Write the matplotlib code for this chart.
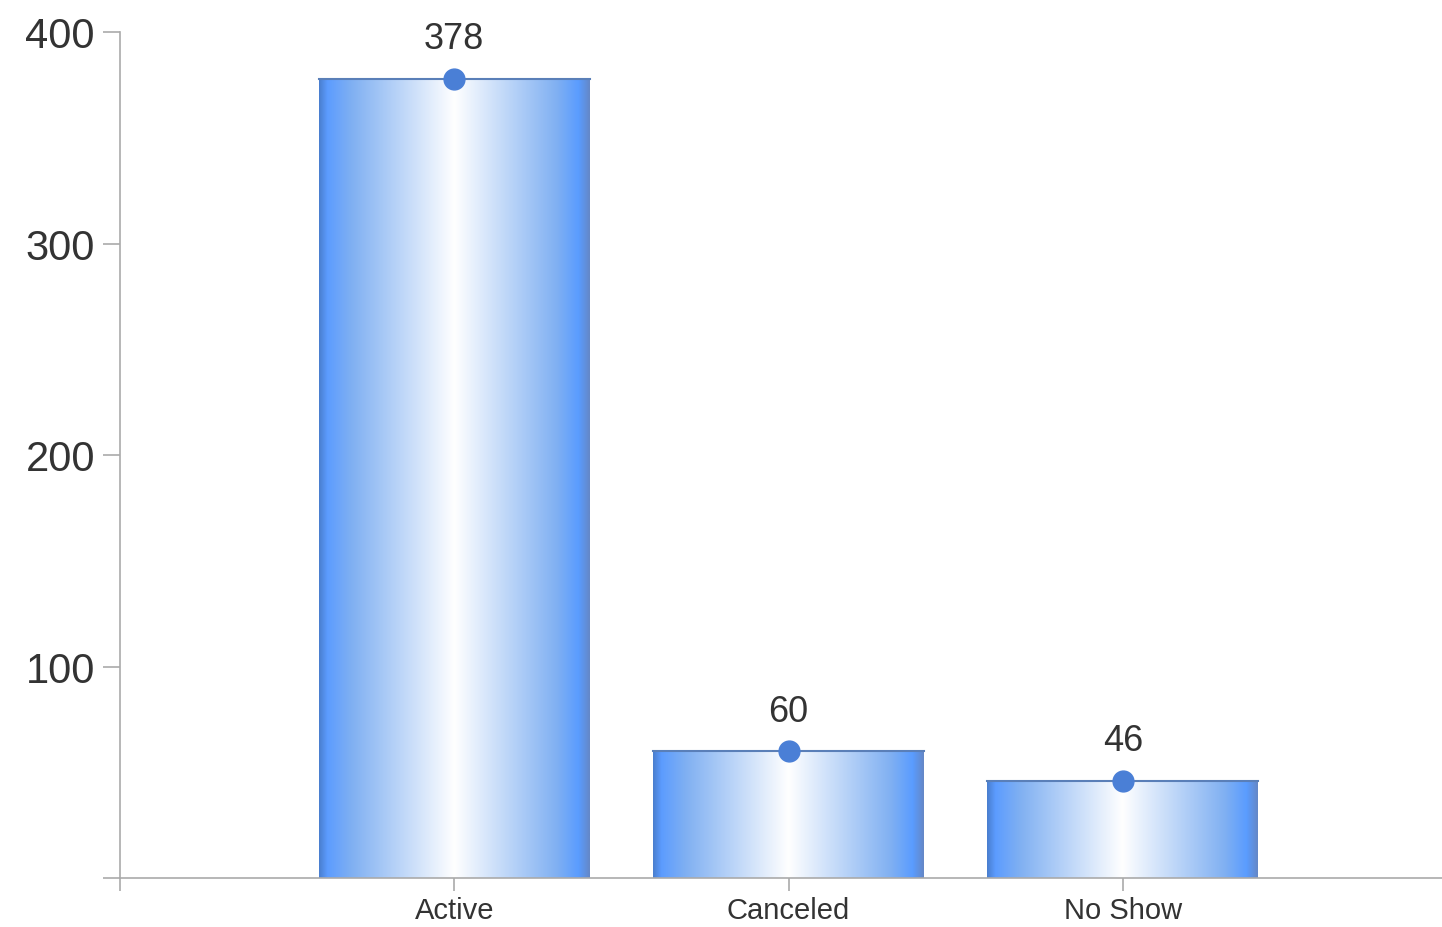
import numpy as np
import matplotlib.pyplot as plt
from matplotlib.colors import LinearSegmentedColormap

estados = ['Active', 'Canceled', 'No Show']
conteos = [378, 60, 46]
ticks_y = [0, 100, 200, 300, 400]
etiquetas_y = ['', '100', '200', '300', '400']

plt.rcParams['font.family'] = ['Liberation Sans', 'DejaVu Sans']

# degradado horizontal azul -> blanco -> azul
cmap_barra = LinearSegmentedColormap.from_list('barra', [
    (0.00, '#4a7fd0'), (0.03, '#5c9cff'), (0.12, '#80b0f2'),
    (0.50, '#ffffff'),
    (0.88, '#80b0f2'), (0.96, '#5a9cff'), (1.00, '#6488c8')])

fig = plt.figure(figsize=(14.42, 9.28), dpi=100)
ax = fig.add_axes([120 / 1442, 1 - 879 / 928, 1 - 120 / 1442, (879 - 33) / 928])

x = np.arange(len(estados))
barras = ax.bar(x, conteos, width=0.81, color='none', edgecolor='none', zorder=2)

grad = np.linspace(0, 1, 256).reshape(1, -1)
for b in barras:
    x0, y0 = b.get_x(), b.get_y()
    w, h = b.get_width(), b.get_height()
    im = ax.imshow(grad, cmap=cmap_barra, aspect='auto',
                   extent=(x0, x0 + w, y0, y0 + h), zorder=2, interpolation='bilinear')
    im.set_clip_path(b)
    ax.plot([x0, x0 + w], [y0 + h, y0 + h], color='#5a7fb8', lw=1.5, zorder=3)

ax.plot(x, conteos, 'o', color='#4a7fd6', markersize=15, zorder=4)
for xi, v in zip(x, conteos):
    ax.annotate(str(v), (xi, v), xytext=(0, 16), textcoords='offset points',
                ha='center', va='bottom', fontsize=26, color='#333333')

ax.set_xlim(-1, 2.955)
ax.set_ylim(0, 400)
ax.set_xticks([-1] + list(x))
ax.set_xticklabels([''] + estados, fontsize=21, color='#333333')
ax.set_yticks(ticks_y)
ax.set_yticklabels(etiquetas_y, fontsize=30, color='#333333')

for s in ['top', 'right']:
    ax.spines[s].set_visible(False)
for s in ['left', 'bottom']:
    ax.spines[s].set_color('#aaaaaa')
    ax.spines[s].set_linewidth(1.2)
ax.tick_params(axis='y', color='#aaaaaa', length=12, width=1.2, pad=6)
ax.tick_params(axis='x', color='#aaaaaa', length=9, width=1.2, pad=4)

fig.savefig('out.png', dpi=100)
